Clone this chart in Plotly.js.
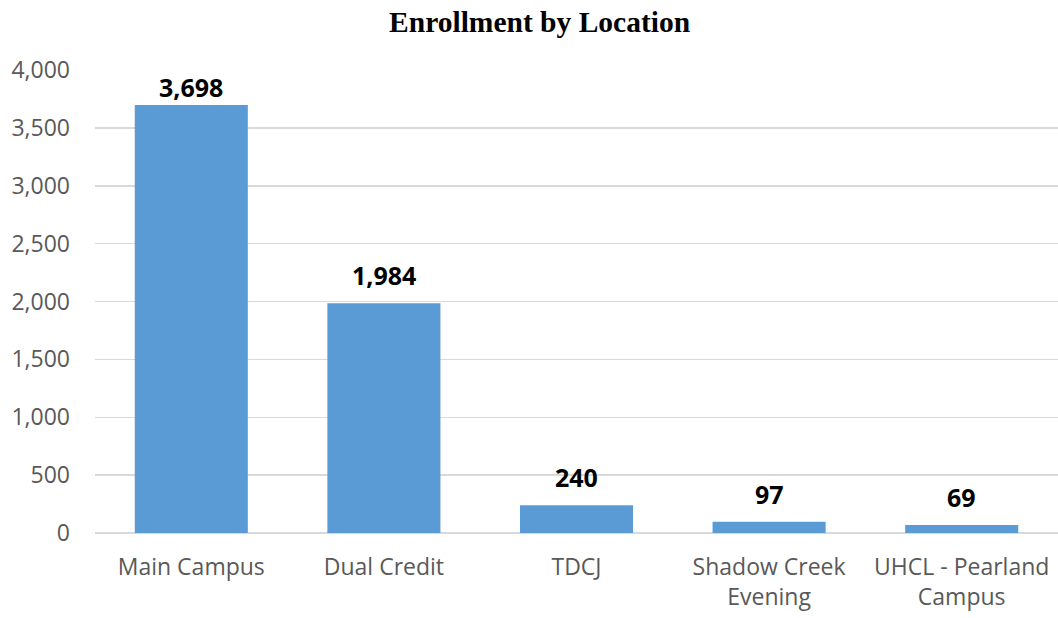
<!DOCTYPE html>
<html>
<head>
<meta charset="utf-8">
<script src="https://cdn.plot.ly/plotly-3.0.1.min.js"></script>
<style>html,body{margin:0;padding:0;background:#fff;}#chart{width:1058px;height:618px;}</style>
</head>
<body>
<div id="chart"></div>
<script>
const categories = ["Main Campus", "Dual Credit", "TDCJ", "Shadow Creek<br>Evening", "UHCL - Pearland<br>Campus"];
const enrollment = [3698, 1984, 240, 97, 69];
const yTickValues = [0, 500, 1000, 1500, 2000, 2500, 3000, 3500, 4000];
const yTickLabels = ["0", "500", "1,000", "1,500", "2,000", "2,500", "3,000", "3,500", "4,000"];

const M = {l: 95, r: 0, t: 70, b: 85};
const H = 618;
const yMax = 4000;
const plotH = H - M.t - M.b;

const trace = {
  type: 'bar',
  x: categories,
  y: enrollment,
  marker: {color: '#5b9bd5'},
  hoverinfo: 'none'
};

// data labels: centred ~28px above bar top, kept inside plot like Excel
const annotations = categories.map((c, i) => {
  const v = enrollment[i];
  const topPx = M.t + (yMax - v) / yMax * plotH;
  const shift = Math.min(28, topPx - (M.t + 17));
  return {
    x: c, y: v, xref: 'x', yref: 'y',
    text: '<b>' + v.toLocaleString('en-US') + '</b>',
    showarrow: false, yanchor: 'middle', xanchor: 'center', yshift: shift,
    font: {family: 'Open Sans', size: 25, color: '#000000'}
  };
});

const layout = {
  width: 1058, height: H,
  margin: M,
  paper_bgcolor: '#ffffff', plot_bgcolor: '#ffffff',
  bargap: 0.413,
  showlegend: false,
  annotations: annotations,
  title: {text: '<b>Enrollment by Location</b>', x: 0.51, xanchor: 'center', y: 0.965, yanchor: 'middle',
          font: {family: 'Liberation Serif', size: 29.5, color: '#000000'}},
  xaxis: {
    tickfont: {family: 'Open Sans', size: 23, color: '#595959'},
    showgrid: false, showline: false, zeroline: false, ticks: '',
    ticklabelstandoff: 18
  },
  yaxis: {
    range: [0, yMax],
    tickvals: yTickValues, ticktext: yTickLabels,
    tickfont: {family: 'Open Sans', size: 23, color: '#595959'},
    showgrid: true, gridcolor: '#d9d9d9', gridwidth: 1.5,
    zeroline: true, zerolinecolor: '#d9d9d9', zerolinewidth: 2,
    showline: false, ticks: '', ticklabelstandoff: 24
  }
};

Plotly.newPlot('chart', [trace], layout, {displayModeBar: false, staticPlot: true});
</script>
</body>
</html>
